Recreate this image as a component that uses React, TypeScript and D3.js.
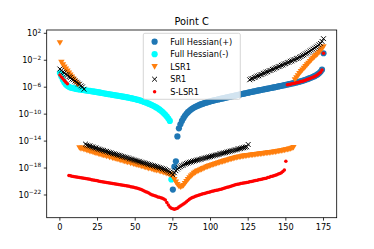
import React from "react";
import * as d3 from "d3";

// ---- data (values stored as log10 exponents, x = eigenvalue index) ----
const xTicks = [0, 25, 50, 75, 100, 125, 150, 175];
const yTickExps = [2, -2, -6, -10, -14, -18, -22];

// Full Hessian(-): indices 0..74
const hessMinusStart = 0;
const hessMinusLog = [
  -3.9, -4.4, -4.9, -5.3, -5.6, -5.8, -5.95, -6.05, -6.1, -6.15,
  -6.2, -6.25, -6.3, -6.33, -6.36, -6.4, -6.43, -6.46, -6.5, -6.53,
  -6.56, -6.6, -6.63, -6.67, -6.7, -6.74, -6.78, -6.82, -6.86, -6.9,
  -6.94, -6.98, -7.02, -7.05, -7.09, -7.13, -7.17, -7.2, -7.24, -7.28,
  -7.32, -7.36, -7.4, -7.44, -7.48, -7.52, -7.57, -7.62, -7.67, -7.72,
  -7.77, -7.83, -7.89, -7.95, -8.02, -8.1, -8.18, -8.26, -8.35, -8.44,
  -8.54, -8.64, -8.75, -8.87, -9.0, -9.14, -9.3, -9.47, -9.66, -9.87,
  -10.1, -10.35, -10.65, -11.0, -19.7,
];

// Full Hessian(+): indices 75..175
const hessPlusStart = 75;
const hessPlusLog = [
  -21.2, -17.8, -17.0, -13.3, -12.1, -11.5, -11.0, -10.6, -10.25, -9.95,
  -9.7, -9.5, -9.32, -9.16, -9.02, -8.9, -8.8, -8.7, -8.6, -8.52,
  -8.44, -8.36, -8.29, -8.22, -8.15, -8.09, -8.03, -7.97, -7.91, -7.86,
  -7.81, -7.76, -7.71, -7.66, -7.61, -7.56, -7.51, -7.46, -7.41, -7.36,
  -7.31, -7.26, -7.21, -7.16, -7.11, -7.06, -7.01, -6.96, -6.91, -6.86,
  -6.81, -6.76, -6.71, -6.66, -6.61, -6.57, -6.52, -6.48, -6.43, -6.39,
  -6.34, -6.3, -6.25, -6.21, -6.16, -6.12, -6.07, -6.03, -5.98, -5.94,
  -5.89, -5.84, -5.8, -5.75, -5.7, -5.65, -5.6, -5.55, -5.5, -5.45,
  -5.4, -5.35, -5.3, -5.24, -5.18, -5.12, -5.05, -4.98, -4.9, -4.82,
  -4.74, -4.65, -4.56, -4.46, -4.36, -4.24, -4.1, -3.93, -3.72, -3.4,
  -0.96,
];

// LSR1: indices 0..175
const lsr1Log = [
  0.6, -2.3, -2.7, -3.0, -3.3, -3.6, -3.9, -4.2, -4.5, -4.8,
  -5.1, -5.35, -5.6, -15.0, -15.15, -15.05, -15.25, -15.2, -15.4, -15.35,
  -15.55, -15.5, -15.65, -15.7, -15.8, -15.75, -15.95, -15.9, -16.05, -16.1,
  -16.15, -16.25, -16.2, -16.4, -16.35, -16.5, -16.55, -16.6, -16.7, -16.65,
  -16.85, -16.8, -16.95, -17.0, -17.05, -17.15, -17.1, -17.3, -17.25, -17.4,
  -17.45, -17.5, -17.6, -17.55, -17.75, -17.7, -17.85, -17.9, -17.95, -18.05,
  -18.0, -18.15, -18.2, -18.25, -18.35, -18.3, -18.45, -18.5, -18.55, -18.65,
  -18.7, -18.8, -18.85, -18.95, -19.05, -19.3, -19.7, -20.1, -20.45, -20.7,
  -20.8, -20.75, -20.6, -20.3, -20.0, -19.7, -19.45, -19.2, -19.0, -18.8,
  -18.65, -18.5, -18.4, -18.3, -18.2, -18.1, -18.0, -17.9, -17.8, -17.72,
  -17.64, -17.56, -17.48, -17.4, -17.33, -17.26, -17.19, -17.12, -17.05, -16.98,
  -16.91, -16.84, -16.77, -16.7, -16.64, -16.58, -16.52, -16.46, -16.4, -16.36,
  -16.32, -16.28, -16.24, -16.2, -16.17, -16.14, -16.11, -16.08, -16.05, -16.02,
  -15.99, -15.96, -15.93, -15.9, -15.87, -15.84, -15.81, -15.78, -15.75, -15.72,
  -15.69, -15.66, -15.63, -15.6, -15.56, -15.52, -15.48, -15.44, -15.4, -15.35,
  -15.3, -15.25, -15.2, -15.14, -15.07, -14.95, -4.9, -4.6, -4.3, -4.0,
  -3.7, -3.45, -3.2, -2.95, -2.7, -2.45, -2.2, -1.95, -1.7, -1.5,
  -1.3, -1.1, -0.85, -0.6, -0.3, 0.0,
];

// SR1: indices 0..175
const sr1Log = [
  -3.3, -3.5, -3.75, -3.85, -4.1, -4.2, -4.45, -4.55, -4.8, -4.9,
  -5.1, -5.25, -5.45, -5.55, -5.8, -5.95, -6.3, -14.45, -14.6, -14.7,
  -14.72, -14.85, -14.9, -15.0, -15.02, -15.15, -15.2, -15.28, -15.35, -15.4,
  -15.5, -15.52, -15.63, -15.7, -15.75, -15.85, -15.9, -15.95, -16.05, -16.1,
  -16.15, -16.25, -16.3, -16.38, -16.45, -16.5, -16.6, -16.65, -16.7, -16.8,
  -16.85, -16.92, -17.0, -17.05, -17.12, -17.2, -17.25, -17.32, -17.4, -17.45,
  -17.52, -17.6, -17.65, -17.72, -17.8, -17.85, -17.92, -18.0, -18.08, -18.15,
  -18.25, -18.35, -18.45, -18.6, -18.75, -19.0, -18.7, -18.4, -18.15, -17.95,
  -17.8, -17.65, -17.55, -17.42, -17.32, -17.25, -17.15, -17.1, -17.02, -16.95,
  -16.9, -16.82, -16.78, -16.7, -16.65, -16.6, -16.52, -16.48, -16.4, -16.35,
  -16.3, -16.22, -16.18, -16.1, -16.05, -16.0, -15.92, -15.88, -15.8, -15.75,
  -15.7, -15.62, -15.58, -15.5, -15.45, -15.4, -15.32, -15.28, -15.2, -15.15,
  -15.1, -15.02, -14.98, -14.9, -14.85, -14.5, -4.9, -4.75, -4.72, -4.55,
  -4.5, -4.35, -4.3, -4.15, -4.1, -3.95, -3.9, -3.75, -3.7, -3.55,
  -3.5, -3.35, -3.3, -3.15, -3.1, -2.95, -2.9, -2.75, -2.7, -2.55,
  -2.5, -2.35, -2.3, -2.15, -2.1, -1.95, -1.9, -1.75, -1.7, -1.55,
  -1.45, -1.3, -1.2, -1.05, -0.95, -0.8, -0.65, -0.5, -0.35, -0.2,
  -0.05, 0.1, 0.3, 0.5, 0.8, 1.2,
];

// S-LSR1: indices 0..175
const slsr1Log = [
  -4.2, -4.5, -4.75, -5.0, -5.25, -5.5, -19.1, -19.15, -19.2, -19.25,
  -19.3, -19.33, -19.37, -19.4, -19.45, -19.48, -19.52, -19.56, -19.6, -19.64,
  -19.68, -19.72, -19.76, -19.8, -19.85, -19.9, -19.95, -20.0, -20.05, -20.08,
  -20.12, -20.15, -20.18, -20.22, -20.25, -20.28, -20.32, -20.36, -20.4, -20.44,
  -20.48, -20.52, -20.56, -20.6, -20.64, -20.68, -20.72, -20.76, -20.8, -20.86,
  -20.92, -20.98, -21.05, -21.12, -21.2, -21.3, -21.4, -21.5, -21.6, -21.72,
  -21.85, -21.95, -22.05, -22.12, -22.2, -22.28, -22.35, -22.42, -22.5, -22.6,
  -22.75, -23.1, -23.5, -23.8, -23.95, -24.05, -24.1, -24.05, -23.95, -23.8,
  -23.65, -23.5, -23.35, -23.2, -23.0, -22.8, -22.65, -22.5, -22.38, -22.28,
  -22.18, -22.1, -22.02, -21.95, -21.88, -21.82, -21.76, -21.7, -21.64, -21.58,
  -21.52, -21.46, -21.4, -21.35, -21.3, -21.25, -21.2, -21.13, -21.06, -21.0,
  -20.93, -20.86, -20.8, -20.74, -20.68, -20.6, -20.52, -20.45, -20.4, -20.35,
  -20.3, -20.26, -20.22, -20.18, -20.14, -20.1, -20.05, -20.0, -19.95, -19.9,
  -19.85, -19.8, -19.75, -19.7, -19.65, -19.6, -19.55, -19.5, -19.42, -19.35,
  -19.27, -19.2, -19.13, -19.06, -18.98, -18.9, -18.8, -18.68, -18.5, -18.3,
  -17.0, -5.65, -5.6, -5.55, -5.5, -5.45, -5.4, -5.35, -5.29, -5.23,
  -5.17, -5.1, -5.03, -4.95, -4.87, -4.79, -4.7, -4.61, -4.51, -4.41,
  -4.29, -4.15, -3.98, -3.77, -3.45, -0.96,
];

const seriesNames = ["Full Hessian(+)", "Full Hessian(-)", "LSR1", "SR1", "S-LSR1"];
const seriesColors = ["#1f77b4", "#00ffff", "#ff7f0e", "#000000", "#ff0000"];

const W = 374;
const H = 249;
const M = { left: 46.7, right: 336.7, top: 30, bottom: 217.7 };
const FONT = "DejaVu Sans, sans-serif";

const toPoints = (logs: number[], start: number) =>
  logs.map((e, i) => ({ x: start + i, y: Math.pow(10, e) }));

function Marker({ kind, color, x, y }: { kind: number; color: string; x: number; y: number }) {
  if (kind === 0 || kind === 1) return <circle cx={x} cy={y} r={3.1} fill={color} />;
  if (kind === 2)
    return (
      <path
        d={`M${x - 3.2},${y - 2.6}L${x + 3.2},${y - 2.6}L${x},${y + 3}Z`}
        fill={color}
      />
    );
  if (kind === 3)
    return (
      <path
        d={`M${x - 2.4},${y - 2.4}L${x + 2.4},${y + 2.4}M${x - 2.4},${y + 2.4}L${x + 2.4},${y - 2.4}`}
        stroke={color}
        strokeWidth={1}
        fill="none"
      />
    );
  return <circle cx={x} cy={y} r={1.75} fill={color} />;
}

export default function App() {
  const x = d3.scaleLinear().domain([-8.75, 183.75]).range([M.left, M.right]);
  const y = d3
    .scaleLog()
    .domain([Math.pow(10, -25.37), Math.pow(10, 2.49)])
    .range([M.bottom, M.top]);

  const series = [
    toPoints(hessPlusLog, hessPlusStart),
    toPoints(hessMinusLog, hessMinusStart),
    toPoints(lsr1Log, 0),
    toPoints(sr1Log, 0),
    toPoints(slsr1Log, 0),
  ];

  const legX = 143.3;
  const legY = 33.3;
  const legW = 97;
  const legH = 66;

  return (
    <div style={{ position: "fixed", left: 0, top: 0 }}>
      <svg width={W} height={H} style={{ display: "block", background: "#fff" }}>
        <rect x={0} y={0} width={W} height={H} fill="#fff" />
        <defs>
          <clipPath id="plotclip">
            <rect x={M.left} y={M.top} width={M.right - M.left} height={M.bottom - M.top} />
          </clipPath>
        </defs>
        <g clipPath="url(#plotclip)">
          {series.map((pts, si) => (
            <g key={si}>
              {pts.map((p, i) => (
                <Marker key={i} kind={si} color={seriesColors[si]} x={x(p.x)} y={y(p.y)} />
              ))}
            </g>
          ))}
        </g>
        {/* spines */}
        <rect
          x={M.left}
          y={M.top}
          width={M.right - M.left}
          height={M.bottom - M.top}
          fill="none"
          stroke="#000"
          strokeWidth={0.8}
        />
        {/* x ticks */}
        {xTicks.map((t) => (
          <g key={t}>
            <line x1={x(t)} x2={x(t)} y1={M.bottom} y2={M.bottom + 2.9} stroke="#000" strokeWidth={0.8} />
            <text x={x(t)} y={M.bottom + 12.6} textAnchor="middle" fontFamily={FONT} fontSize={8.2}>
              {t}
            </text>
          </g>
        ))}
        {/* y ticks */}
        {yTickExps.map((e) => {
          const yy = y(Math.pow(10, e));
          return (
            <g key={e}>
              <line x1={M.left - 2.9} x2={M.left} y1={yy} y2={yy} stroke="#000" strokeWidth={0.8} />
              <text x={M.left - 5.6} y={yy + 3} textAnchor="end" fontFamily={FONT} fontSize={8.2}>
                10
                <tspan fontSize={5.8} dy={-3.6}>
                  {e < 0 ? "\u2212" + Math.abs(e) : String(e)}
                </tspan>
              </text>
            </g>
          );
        })}
        {/* title */}
        <text x={(M.left + M.right) / 2} y={24.6} textAnchor="middle" fontFamily={FONT} fontSize={9.8}>
          Point C
        </text>
        {/* legend */}
        <rect
          x={legX}
          y={legY}
          width={legW}
          height={legH}
          rx={1.6}
          fill="#fff"
          fillOpacity={0.8}
          stroke="#cccccc"
          strokeWidth={0.8}
        />
        {seriesNames.map((name, i) => {
          const cy = legY + 8.4 + i * 12.5;
          return (
            <g key={name}>
              <Marker kind={i} color={seriesColors[i]} x={154.6} y={cy} />
              <text x={170.2} y={cy + 3} fontFamily={FONT} fontSize={8.2}>
                {name}
              </text>
            </g>
          );
        })}
      </svg>
    </div>
  );
}
